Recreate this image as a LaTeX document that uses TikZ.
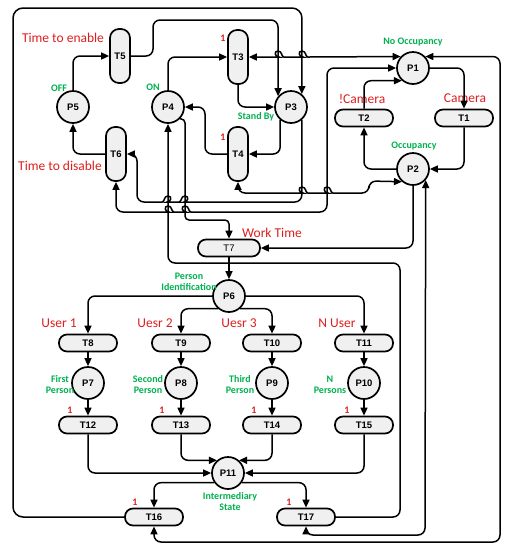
\documentclass[tikz,border=0pt]{standalone}
\usepackage{fontspec}
\setmainfont{Carlito}
\newfontfamily\nodefont{Liberation Sans}
\usetikzlibrary{arrows.meta}
\definecolor{lblred}{RGB}{222,30,30}
\definecolor{lblgreen}{RGB}{0,176,80}
\definecolor{nodefill}{RGB}{240,240,240}
\newcommand\bumpR[2]{-- ({#1-6},#2) [sharp corners] .. controls ({#1-3},#2) and ({#1-4.5},{#2-6}) .. (#1,{#2-6}) .. controls ({#1+4.5},{#2-6}) and ({#1+3},#2) .. ({#1+6},#2) -- ({#1+7},#2) [rounded corners=7pt]}
\newcommand\bumpL[2]{-- ({#1+6},#2) [sharp corners] .. controls ({#1+3},#2) and ({#1+4.5},{#2-6}) .. (#1,{#2-6}) .. controls ({#1-4.5},{#2-6}) and ({#1-3},#2) .. ({#1-6},#2) -- ({#1-7},#2) [rounded corners=7pt]}
\begin{document}
\begin{tikzpicture}[x=1pt,y=-1pt,
  place/.style={circle,draw,line width=1.7pt,fill=nodefill,minimum size=32pt,inner sep=0pt,font=\nodefont\bfseries\fontsize{9.5}{10}\selectfont},
  vtrans/.style={draw,line width=1.7pt,fill=nodefill,rounded corners=9pt,minimum width=20pt,minimum height=54pt,inner sep=0pt,font=\nodefont\bfseries\fontsize{9.5}{10}\selectfont},
  htrans/.style={draw,line width=1.7pt,fill=nodefill,rounded corners=8pt,minimum width=58pt,minimum height=17pt,inner sep=0pt,font=\nodefont\bfseries\fontsize{9.5}{10}\selectfont},
  flow/.style={line width=1.5pt,-{Triangle[length=8pt,width=7pt]},rounded corners=7pt},
  rflow/.style={line width=1.5pt,{Triangle[length=8pt,width=7pt]}-{Triangle[length=8pt,width=7pt]},rounded corners=7pt},
  redlbl/.style={text=lblred,font=\fontsize{13.5}{14}\selectfont,inner sep=0pt},
  grnlbl/.style={text=lblgreen,font=\bfseries\fontsize{10}{11}\selectfont,inner sep=0pt,align=center},
  onelbl/.style={text=lblred,font=\bfseries\fontsize{10}{11}\selectfont,inner sep=0pt},
]
\useasboundingbox (0,0) rectangle (508,550);
% places
\node[place] (P1) at (413,68) {P1};
\node[place] (P2) at (413,169) {P2};
\node[place] (P3) at (291,107) {P3};
\node[place] (P4) at (168,107) {P4};
\node[place] (P5) at (73,107) {P5};
\node[place] (P6) at (229,296) {P6};
\node[place] (P7) at (88,383) {P7};
\node[place] (P8) at (181,383) {P8};
\node[place] (P9) at (272,383) {P9};
\node[place] (P10) at (364,383) {P10};
\node[place] (P11) at (228,473) {P11};
% transitions
\node[htrans] (T1) at (464,118) {T1};
\node[htrans] (T2) at (364,118) {T2};
\node[vtrans] (T3) at (238,57) {T3};
\node[vtrans] (T4) at (238,154) {T4};
\node[vtrans] (T5) at (120,56) {T5};
\node[vtrans] (T6) at (116,154) {T6};
\node[htrans,minimum width=62pt,font=\nodefont\fontsize{9.5}{10}\selectfont] (T7) at (229,248) {T7};
\node[htrans] (T8) at (88,343) {T8};
\node[htrans] (T9) at (181,343) {T9};
\node[htrans] (T10) at (272,343) {T10};
\node[htrans] (T11) at (364,343) {T11};
\node[htrans] (T12) at (88,425) {T12};
\node[htrans] (T13) at (181,425) {T13};
\node[htrans] (T14) at (272,425) {T14};
\node[htrans] (T15) at (364,425) {T15};
\node[htrans] (T16) at (154,517) {T16};
\node[htrans] (T17) at (306,517) {T17};
% labels
\node[redlbl] (lTE) at (63,38) {Time to enable};
\node[redlbl] (lTD) at (60,166) {Time to disable};
\node[grnlbl] (lOFF) at (59,88) {OFF};
\node[grnlbl] (lON) at (153,87) {ON};
\node[grnlbl] (lSB) at (256,117) {Stand By};
\node[grnlbl] (lNO) at (413,42) {No Occupancy};
\node[grnlbl] (lOC) at (414,146) {Occupancy};
\node[redlbl] (lNC) at (362,99) {!Camera};
\node[redlbl] (lC) at (465,98) {Camera};
\node[redlbl] (lWT) at (272,233) {Work Time};
\node[grnlbl] (lPI) at (189,282) {Person\\Identification};
\node[redlbl] (lU1) at (59,323) {User 1};
\node[redlbl] (lU2) at (155,323) {Uesr 2};
\node[redlbl] (lU3) at (239,323) {Uesr 3};
\node[redlbl] (lUN) at (337,323) {N User};
\node[grnlbl] (lFP) at (60,385) {First\\Person};
\node[grnlbl] (lSP) at (148,385) {Second\\Person};
\node[grnlbl] (lTP) at (240,385) {Third\\Person};
\node[grnlbl] (lNP) at (330,385) {N\\Persons};
\node[grnlbl] (lIS) at (230,502) {Intermediary\\State};
\node[onelbl] (o3) at (223,38) {1};
\node[onelbl] (o4) at (223,137) {1};
\node[onelbl] (o12) at (70,410) {1};
\node[onelbl] (o13) at (162,410) {1};
\node[onelbl] (o14) at (254,410) {1};
\node[onelbl] (o15) at (347,410) {1};
\node[onelbl] (o16) at (135,502) {1};
\node[onelbl] (o17) at (289,502) {1};
% connectors: camera loop
\draw[flow] (P1.east) -| (T1.north);
\draw[flow] (T1.south) |- (P2.east);
\draw[flow] (P2.west) -| (T2.south);
\draw[flow] (T2.north) |- (P1.229);
% read arcs
\draw[rflow] (T3.east) \bumpR{278}{57} \bumpR{302}{57} -- (P1.137);
\draw[rflow] (T16.south) |- (500,542) |- (P1.43);
\draw[rflow] (T17.south) |- (425,535) -- (P2.-41);
\draw[rflow] (T4.south) |- (290,193) \bumpR{302}{193} \bumpR{327}{193} -| (369,181) -- (P2.229);
\draw[rflow] (T6.south) |- (158,212) \bumpR{168}{212} \bumpR{185}{212} -- (327,212) |- (P1.west);
% top part
\draw[flow] (T17.east) -| (400,263) -- (168,263) -- (P4.south);
\draw[flow,rounded corners=4pt] (P4.-45) -| (185,220) -| (T7.north);
\draw[flow] (P2.south) |- (T7.east);
\draw[flow] (P3.-50) |- (195,202) \bumpL{185}{202} \bumpL{168}{202} -- (137,202) -- (137,154) -- (T6.east);
\draw[flow] (T6.west) -| (P5.south);
\draw[flow] (P5.north) |- (T5.west);
\draw[flow] (T5.east) -- (153,56) -- (153,20) -- (278,20) -- (P3.140);
\draw[flow,rounded corners=10pt] (T16.west) -- (13,517) -- (13,8) -- (302,8) -- (P3.50);
\draw[flow] (P4.north) |- (T3.west);
\draw[flow] (T3.south) |- (P3.west);
\draw[flow] (P3.230) |- (T4.east);
\draw[flow] (T4.west) -| (205,107) -- (P4.east);
% lower part
\draw[flow] (T7.south) -- (P6.north);
\draw[flow] (P6.west) -| (T8.north);
\draw[flow] (P6.229) -| (T9.north);
\draw[flow] (P6.-49) -| (T10.north);
\draw[flow] (P6.east) -| (T11.north);
\draw[flow] (T8) -- (P7);
\draw[flow] (T9) -- (P8);
\draw[flow] (T10) -- (P9);
\draw[flow] (T11) -- (P10);
\draw[flow] (P7) -- (T12);
\draw[flow] (P8) -- (T13);
\draw[flow] (P9) -- (T14);
\draw[flow] (P10) -- (T15);
\draw[flow] (T12.south) |- (P11.west);
\draw[flow] (T13.south) |- (P11.131);
\draw[flow] (T14.south) |- (P11.49);
\draw[flow] (T15.south) |- (P11.east);
\draw[flow] (P11.215) -| (T16.north);
\draw[flow] (P11.-35) -| (T17.north);
\end{tikzpicture}
\end{document}
